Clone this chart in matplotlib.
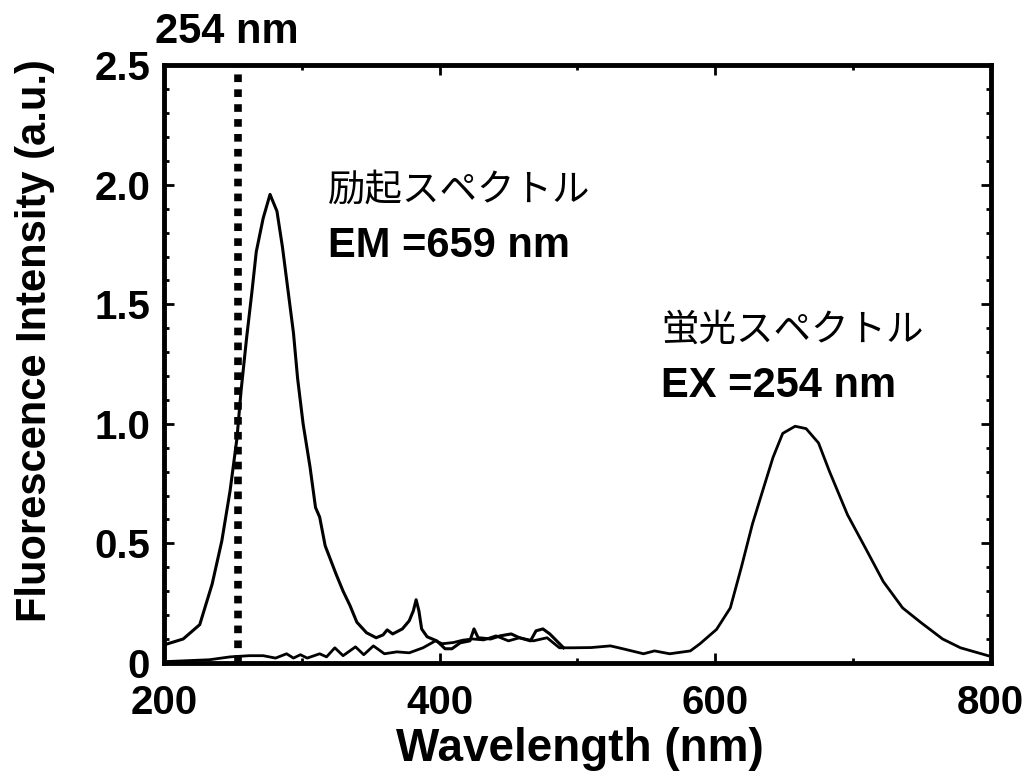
import numpy as np
import matplotlib.pyplot as plt
from matplotlib.ticker import MultipleLocator

# excitation spectrum (monitored at 659 nm)
ex_wl = [200, 214, 226, 235, 242, 248, 253, 256, 260, 264, 267, 272, 277, 282,
         286, 290, 294, 297, 301, 306, 310, 313, 317, 325, 330, 335, 340, 347,
         354, 359, 362, 366, 373, 378, 381, 383, 385, 387, 391, 398, 404, 409,
         415, 422, 425, 428, 437, 444, 452, 458, 466, 470, 475, 480, 490]
ex_int = [0.075, 0.10, 0.16, 0.33, 0.51, 0.72, 0.94, 1.14, 1.36, 1.56, 1.72, 1.86,
          1.96, 1.89, 1.74, 1.56, 1.38, 1.19, 1.00, 0.82, 0.65, 0.61, 0.49, 0.37,
          0.30, 0.24, 0.17, 0.126, 0.105, 0.117, 0.138, 0.121, 0.142, 0.176, 0.218,
          0.264, 0.218, 0.142, 0.109, 0.092, 0.059, 0.059, 0.084, 0.092, 0.142,
          0.105, 0.10, 0.113, 0.121, 0.105, 0.092, 0.134, 0.142, 0.121, 0.063]

# fluorescence spectrum (excited at 254 nm)
em_wl = [200, 233, 248, 262, 272, 281, 289, 294, 299, 304, 313, 318, 324, 330,
         339, 345, 352, 360, 369, 378, 388, 397, 402, 410, 417, 424, 432, 441,
         450, 458, 468, 478, 487, 496, 510, 524, 533, 548, 556, 567, 582, 589,
         601, 611, 619, 627, 635, 642, 649, 658, 666, 675, 683, 696, 710, 722,
         736, 749, 765, 778, 798]
em_int = [0.005, 0.013, 0.025, 0.03, 0.03, 0.02, 0.038, 0.02, 0.034, 0.02, 0.038,
          0.025, 0.063, 0.03, 0.067, 0.034, 0.071, 0.038, 0.046, 0.042, 0.063,
          0.092, 0.08, 0.085, 0.095, 0.10, 0.096, 0.113, 0.092, 0.105, 0.092,
          0.105, 0.063, 0.063, 0.064, 0.071, 0.059, 0.038, 0.05, 0.038, 0.05,
          0.08, 0.14, 0.23, 0.40, 0.58, 0.73, 0.86, 0.96, 0.99, 0.98, 0.92, 0.80,
          0.62, 0.47, 0.34, 0.23, 0.17, 0.10, 0.063, 0.03]

ex_line = 254
x_ticks = [200, 400, 600, 800]
y_ticks = [0, 0.5, 1.0, 1.5, 2.0, 2.5]
y_ticklabels = ['0', '0.5', '1.0', '1.5', '2.0', '2.5']

plt.rcParams['font.family'] = ['Liberation Sans', 'DejaVu Sans']
jp = ['Noto Sans CJK JP', 'DejaVu Sans']

fig = plt.figure(figsize=(10.31, 7.78), dpi=100)
ax = fig.add_axes([0.159, 0.148, 0.802, 0.768])

ax.plot(ex_wl, ex_int, color='k', lw=2.2, solid_joinstyle='round')
ax.plot(em_wl, em_int, color='k', lw=2.0, solid_joinstyle='round')
# dotted marker for the excitation wavelength
ax.plot([ex_line, ex_line], [0, 2.5], color='k', lw=5.5,
        dashes=(1.0, 0.95), dash_capstyle='butt')

ax.set_xlim(200, 800)
ax.set_ylim(0, 2.5)
ax.set_xticks(x_ticks)
ax.set_yticks(y_ticks)
ax.set_yticklabels(y_ticklabels)
ax.xaxis.set_minor_locator(MultipleLocator(100))
ax.yaxis.set_minor_locator(MultipleLocator(0.1))
ax.tick_params(which='both', direction='in', top=True, right=True, width=2)
ax.tick_params(which='major', length=7, labelsize=29)
ax.tick_params(which='minor', length=3.5)
ax.tick_params(axis='x', which='major', pad=15)
ax.tick_params(axis='y', which='major', pad=10)
for lab in ax.get_xticklabels() + ax.get_yticklabels():
    lab.set_fontweight('bold')
for s in ax.spines.values():
    s.set_linewidth(3.5)

ax.set_xlabel('Wavelength (nm)', fontsize=33, fontweight='bold')
ax.set_ylabel('Fluorescence Intensity (a.u.)', fontsize=30, fontweight='bold')
ax.xaxis.set_label_coords(0.503, -0.108)
ax.yaxis.set_label_coords(-0.132, 0.54)

fig.text(155 / 1031, 1 - 32 / 778, '254 nm', fontsize=30, fontweight='bold',
         va='center', ha='left')
fig.text(328 / 1031, 1 - 190 / 778, '励起スペクトル', fontsize=27, family=jp,
         va='center', ha='left')
fig.text(328 / 1031, 1 - 246 / 778, 'EM =659 nm', fontsize=30, fontweight='bold',
         va='center', ha='left')
fig.text(661 / 1031, 1 - 330 / 778, '蛍光スペクトル', fontsize=27, family=jp,
         va='center', ha='left')
fig.text(661 / 1031, 1 - 386 / 778, 'EX =254 nm', fontsize=30, fontweight='bold',
         va='center', ha='left')

fig.savefig('out.png', dpi=100)
